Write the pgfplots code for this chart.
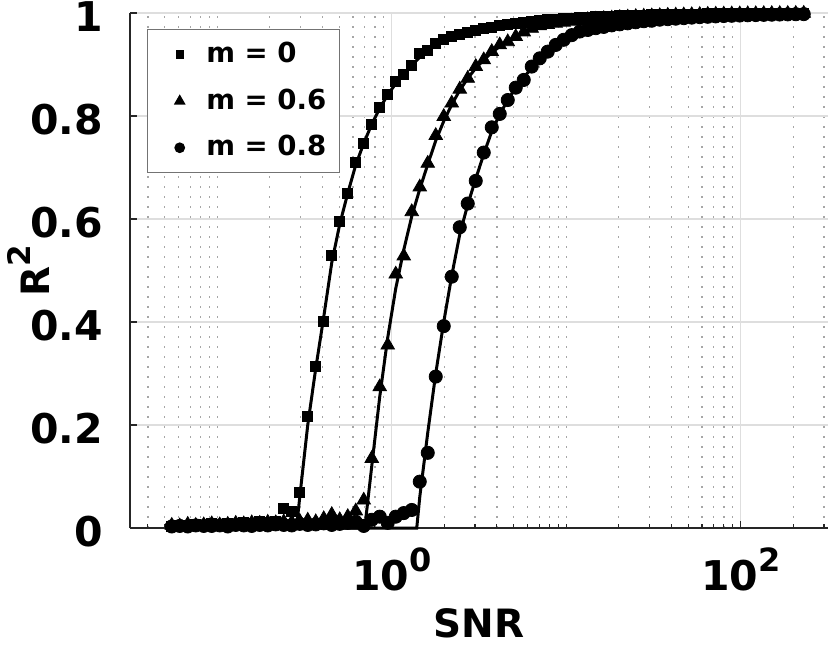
\documentclass[border=0pt]{standalone}
\usepackage{fontspec}
\setmainfont{DejaVu Sans}
\usepackage{pgfplots}
\pgfplotsset{compat=1.18}
\usepackage{pgfplotstable}

\newcommand{\tickfont}{\fontsize{20.5}{23}\selectfont\bfseries}
\newcommand{\labfont}{\fontsize{19.5}{22}\selectfont\bfseries}
\newcommand{\legfont}{\fontsize{13.8}{16}\selectfont\bfseries}
\newcommand{\tsup}[1]{\raisebox{9.5pt}{\fontsize{16}{17}\selectfont\bfseries #1}}
\newcommand{\lsup}[1]{\raisebox{9.5pt}{\fontsize{15.5}{16}\selectfont\bfseries #1}}

% lx = log10(SNR)
\pgfplotstableread{
lx m0 m06 m08
-1.2607 0.004 0.005 0.003
-1.2149 0.006 0.004 0.004
-1.1691 0.005 0.007 0.003
-1.1232 0.007 0.005 0.005
-1.0774 0.005 0.006 0.004
-1.0315 0.008 0.008 0.004
-0.9857 0.006 0.006 0.005
-0.9398 0.009 0.007 0.003
-0.8940 0.007 0.009 0.006
-0.8481 0.010 0.008 0.005
-0.8023 0.008 0.010 0.004
-0.7564 0.012 0.009 0.006
-0.7106 0.010 0.011 0.005
-0.6648 0.013 0.010 0.007
-0.6189 0.038 0.012 0.006
-0.5731 0.033 0.011 0.005
-0.5272 0.069 0.013 0.008
-0.4814 0.217 0.015 0.006
-0.4355 0.313 0.012 0.007
-0.3897 0.402 0.018 0.009
-0.3438 0.530 0.026 0.006
-0.2980 0.595 0.016 0.008
-0.2521 0.650 0.022 0.010
-0.2063 0.709 0.033 0.012
-0.1605 0.746 0.054 0.004
-0.1146 0.784 0.135 0.016
-0.0688 0.816 0.274 0.022
-0.0229 0.841 0.355 0.010
0.0229 0.867 0.493 0.022
0.0688 0.880 0.528 0.029
0.1146 0.899 0.614 0.035
0.1605 0.922 0.662 0.090
0.2063 0.928 0.708 0.146
0.2521 0.941 0.762 0.294
0.2980 0.948 0.799 0.392
0.3438 0.954 0.825 0.488
0.3897 0.958 0.852 0.584
0.4355 0.963 0.873 0.630
0.4814 0.966 0.896 0.674
0.5272 0.970 0.909 0.729
0.5731 0.972 0.925 0.778
0.6189 0.976 0.938 0.804
0.6648 0.977 0.944 0.831
0.7106 0.980 0.954 0.855
0.7564 0.982 0.963 0.870
0.8023 0.984 0.970 0.896
0.8481 0.985 0.975 0.912
0.8940 0.987 0.9775 0.925
0.9398 0.988 0.980 0.938
0.9857 0.989 0.982 0.948
1.0315 0.990 0.984 0.957
1.0774 0.9915 0.985 0.964
1.1232 0.992 0.987 0.967
1.1691 0.993 0.988 0.9705
1.2149 0.9935 0.989 0.973
1.2607 0.9943 0.990 0.976
1.3066 0.9948 0.991 0.978
1.3524 0.9954 0.992 0.980
1.3983 0.9958 0.993 0.982
1.4441 0.9962 0.9936 0.984
1.4900 0.9966 0.9943 0.985
1.5358 0.9970 0.9948 0.987
1.5817 0.9973 0.9954 0.988
1.6275 0.9975 0.9958 0.989
1.6734 0.9978 0.9962 0.990
1.7192 0.9980 0.9966 0.991
1.7650 0.9982 0.9970 0.992
1.8109 0.9984 0.9973 0.9927
1.8567 0.9985 0.9975 0.9934
1.9026 0.9987 0.9978 0.9941
1.9484 0.9988 0.9980 0.9946
1.9943 0.9989 0.9982 0.9951
2.0401 0.9990 0.9984 0.9956
2.0860 0.9991 0.9985 0.9960
2.1318 0.9992 0.9987 0.9964
2.1777 0.9993 0.9988 0.9967
2.2235 0.9994 0.9989 0.9970
2.2693 0.9994 0.9990 0.9973
2.3152 0.9995 0.9991 0.9976
2.3610 0.9995 0.9992 0.9978
}\datatab

\begin{document}
\begin{tikzpicture}
\begin{axis}[
  scale only axis, width=349pt, height=257.5pt,
  xmin=-1.5, xmax=2.5, ymin=0, ymax=1,
  axis x line*=bottom, axis y line*=left,
  x axis line style={-}, y axis line style={-},
  axis line style={draw=black!85, line width=0.6pt},
  xtick={0,2}, xticklabels={10\tsup{0},10\tsup{2}},
  minor xtick={-1.3979,-1.3010,-1.2218,-1.1549,-1.0969,-1.0458,-1,-0.6990,-0.5229,-0.3979,-0.3010,-0.2218,-0.1549,-0.0969,-0.0458,0.3010,0.4771,0.6021,0.6990,0.7782,0.8451,0.9031,0.9542,1,1.3010,1.4771,1.6021,1.6990,1.7782,1.8451,1.9031,1.9542,2.3010,2.4771},
  ytick={0,0.2,0.4,0.6,0.8,1}, yticklabels={0,0.2,0.4,0.6,0.8,1},
  grid=both,
  major grid style={draw=black!13, line width=0.7pt},
  minor grid style={draw=black!35, line width=0.7pt, dash pattern=on 0.8pt off 4.2pt},
  tick align=inside, major tick length=3.5pt, minor tick length=2pt,
  tick style={draw=black!85, line width=0.6pt},
  ticklabel style={font=\tickfont, inner sep=0pt},
  yticklabel style={xshift=-13.3pt, yshift=-2pt},
  xticklabel style={yshift=-9.8pt},
  xlabel={SNR}, ylabel={R\lsup{2}},
  label style={font=\labfont, inner sep=0pt},
  xlabel style={at={(axis description cs:0.5,-0.186)}, anchor=center},
  ylabel style={at={(axis description cs:-0.146,0.5)}, anchor=center},
  clip=false,
  legend style={at={(0.0244,0.969)}, anchor=north west, draw=black!55, line width=0.6pt,
    font=\legfont, inner xsep=4.75pt, inner ysep=4.5pt, row sep=7.3pt,
    nodes={text height=10pt, text depth=2pt}},
  legend cell align=left,
  legend image code/.code={\path (0pt,0pt) (22pt,0pt); \draw[#1, every mark/.append style={scale=0.72}] plot coordinates {(11pt,0pt)};},
]
\addplot[black, line width=1.5pt, forget plot] coordinates {(-1.2607,0) (-0.546,0) (-0.5272,0.06) (-0.4814,0.20) (-0.4355,0.31) (-0.3897,0.41) (-0.3438,0.515) (-0.2980,0.59) (-0.2521,0.65) (-0.2063,0.705) (-0.1605,0.747) (-0.1146,0.784) (-0.0688,0.815) (-0.0229,0.841) (0.0229,0.863) (0.0688,0.882) (0.1146,0.899) (0.1605,0.914) (0.2063,0.927) (0.2521,0.938) (0.2980,0.946) (0.3438,0.953) (0.3897,0.958) (0.4814,0.966) (0.5731,0.972) (0.6648,0.977) (0.8023,0.984) (0.9398,0.988) (1.0774,0.9915) (1.2607,0.9943) (1.4900,0.9966) (1.7650,0.9982) (2.0401,0.9990) (2.3610,0.9995)};
\addplot[black, line width=1.5pt, forget plot] coordinates {(-1.2607,0) (-0.1547,0) (-0.1146,0.12) (-0.0688,0.255) (-0.0229,0.37) (0.0229,0.465) (0.0688,0.54) (0.1146,0.605) (0.1605,0.658) (0.2063,0.706) (0.2521,0.752) (0.2980,0.79) (0.3438,0.822) (0.3897,0.85) (0.4355,0.873) (0.4814,0.893) (0.5272,0.909) (0.5731,0.923) (0.6189,0.935) (0.6648,0.945) (0.7106,0.954) (0.7564,0.962) (0.8023,0.968) (0.8481,0.973) (0.8940,0.977) (1.0315,0.984) (1.2607,0.990) (1.4900,0.9943) (1.7192,0.9966) (1.9484,0.998) (2.3610,0.9992)};
\addplot[black, line width=1.5pt, forget plot] coordinates {(-1.2607,0) (0.1433,0) (0.1605,0.06) (0.2063,0.185) (0.2521,0.30) (0.2980,0.40) (0.3438,0.49) (0.3897,0.57) (0.4355,0.628) (0.4814,0.678) (0.5272,0.726) (0.5731,0.77) (0.6189,0.803) (0.6648,0.831) (0.7106,0.855) (0.7564,0.875) (0.8023,0.893) (0.8481,0.908) (0.8940,0.922) (0.9398,0.934) (0.9857,0.945) (1.0315,0.954) (1.0774,0.961) (1.1232,0.967) (1.2607,0.976) (1.4900,0.985) (1.7192,0.991) (1.9484,0.9946) (2.3610,0.9978)};
\addplot[only marks, black, mark=square*, mark size=2.5pt] table[x=lx, y=m0] {\datatab};
\addplot[only marks, black, mark=triangle*, mark size=3.9pt] table[x=lx, y=m06] {\datatab};
\addplot[only marks, black, mark=*, mark size=3.3pt] table[x=lx, y=m08] {\datatab};
\legend{m = 0, m = 0.6, m = 0.8}
\coordinate (SW) at (rel axis cs:0,0);
\end{axis}
\pgfresetboundingbox
\path (SW) ++(-65pt,-59.5pt) rectangle ++(415pt,323.5pt);
\end{tikzpicture}
\end{document}
